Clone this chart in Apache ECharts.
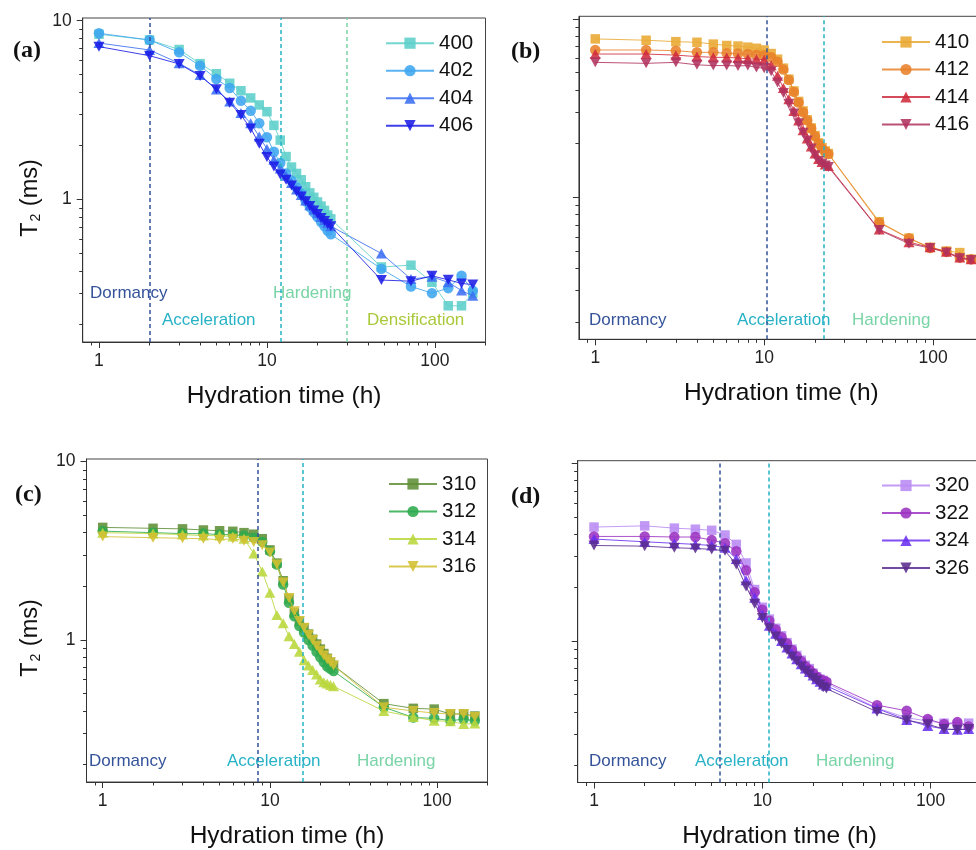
<!DOCTYPE html>
<html><head><meta charset="utf-8">
<script src="https://cdn.jsdelivr.net/npm/echarts@6/dist/echarts.min.js"></script>
<style>html,body{margin:0;padding:0;overflow:hidden;background:#fff}#c{width:1000px;height:850px}</style>
</head><body><div id="c"></div><script>
// ---- data ----
const hours = [1,2,3,4,5,6,7,8,9,10,11,12,13,14,15,16,17,18,19,20,21,22,23,24,48,72,96,120,144,168];

const names_a = ['400','402','404','406'];
const s400 = [8.4,7.8,6.9,5.75,5.05,4.47,4.06,3.7,3.38,3.1,2.6,2.15,1.74,1.52,1.4,1.29,1.18,1.09,1.03,0.97,0.92,0.87,0.82,0.78,0.42,0.43,0.345,0.255,0.255,0.30];
const s402 = [8.5,7.8,6.65,5.6,4.72,4.2,3.57,3.14,2.67,2.23,1.85,1.6,1.40,1.28,1.17,1.08,0.98,0.91,0.85,0.80,0.75,0.71,0.67,0.64,0.41,0.327,0.30,0.32,0.375,0.31];
const s404 = [7.5,6.86,5.78,4.97,4.13,3.53,3.05,2.67,2.25,1.92,1.67,1.49,1.36,1.24,1.14,1.06,0.99,0.93,0.88,0.84,0.80,0.77,0.74,0.71,0.50,0.36,0.37,0.345,0.31,0.29];
const s406 = [7.16,6.37,5.73,4.91,4.14,3.48,2.97,2.5,2.05,1.73,1.53,1.38,1.29,1.2,1.11,1.04,0.98,0.92,0.87,0.83,0.79,0.76,0.73,0.71,0.355,0.35,0.375,0.356,0.34,0.335];

const names_b = ['410','412','414','416'];
const s410 = [7.73,7.6,7.46,7.4,7.23,7.1,7.05,6.95,6.85,6.7,6.4,5.95,5.3,4.6,3.95,3.45,3.05,2.72,2.45,2.22,2.02,1.9,1.82,1.76,0.73,0.59,0.525,0.5,0.49,0.45];
const s412 = [6.7,6.7,6.64,6.5,6.5,6.42,6.4,6.36,6.3,6.25,6.1,5.75,5.2,4.55,3.9,3.4,3.0,2.7,2.43,2.2,2.0,1.88,1.8,1.75,0.72,0.59,0.52,0.495,0.46,0.45];
const s414 = [6.36,6.36,6.27,6.15,6.1,6.08,6.05,5.97,5.95,5.9,5.5,4.8,4.1,3.55,3.05,2.7,2.38,2.14,1.93,1.76,1.64,1.58,1.53,1.5,0.66,0.56,0.525,0.495,0.46,0.45];
const s416 = [5.71,5.64,5.71,5.53,5.48,5.48,5.45,5.48,5.34,5.3,5.1,4.4,3.85,3.35,2.95,2.6,2.3,2.08,1.88,1.72,1.6,1.55,1.51,1.48,0.655,0.55,0.52,0.49,0.455,0.445];

const names_c = ['310','312','314','316'];
const s310 = [4.28,4.23,4.2,4.14,4.1,4.07,4.0,3.92,3.7,3.2,2.7,2.15,1.7,1.42,1.27,1.17,1.08,1.01,0.95,0.89,0.84,0.79,0.75,0.72,0.44,0.414,0.41,0.385,0.385,0.375];
const s312 = [4.08,4.0,3.95,3.95,3.9,3.9,3.85,3.75,3.55,3.15,2.65,2.05,1.62,1.36,1.2,1.1,1.0,0.93,0.86,0.80,0.75,0.71,0.69,0.67,0.42,0.368,0.364,0.353,0.36,0.353];
const s314 = [4.0,3.95,3.9,3.85,3.85,3.8,3.7,3.06,2.42,1.84,1.38,1.24,1.05,0.95,0.86,0.77,0.72,0.68,0.64,0.60,0.58,0.57,0.56,0.55,0.40,0.37,0.353,0.35,0.338,0.34];
const s316 = [3.8,3.75,3.72,3.7,3.65,3.7,3.6,3.55,3.4,3.1,2.65,2.1,1.72,1.45,1.28,1.17,1.07,1.0,0.93,0.87,0.82,0.78,0.75,0.72,0.42,0.40,0.39,0.385,0.385,0.37];

const names_d = ['320','322','324','326'];
const s320 = [4.38,4.45,4.32,4.26,4.2,3.95,3.5,2.75,1.95,1.55,1.33,1.18,1.07,0.98,0.9,0.83,0.78,0.73,0.7,0.66,0.63,0.61,0.6,0.58,0.42,0.37,0.355,0.345,0.34,0.345];
const s322 = [3.88,3.88,3.85,3.85,3.7,3.55,3.2,2.5,1.88,1.5,1.3,1.16,1.05,0.97,0.89,0.82,0.77,0.72,0.69,0.66,0.63,0.61,0.60,0.59,0.436,0.405,0.364,0.341,0.35,0.331];
const s324 = [3.75,3.62,3.55,3.5,3.45,3.35,2.9,2.2,1.75,1.4,1.22,1.1,1.0,0.92,0.85,0.79,0.74,0.70,0.67,0.64,0.61,0.59,0.57,0.56,0.417,0.36,0.333,0.32,0.317,0.32];
const s326 = [3.45,3.42,3.35,3.32,3.28,3.22,2.7,2.03,1.62,1.35,1.18,1.06,0.97,0.89,0.82,0.77,0.72,0.68,0.65,0.62,0.60,0.57,0.55,0.54,0.40,0.359,0.34,0.32,0.317,0.32];

const xMajor = [1,10,100];
const xMinor = [0.9,2,3,4,5,6,7,8,9,20,30,40,50,60,70,80,90,200];
const yMajor = [1,10];
const yMinor = [0.2,0.3,0.4,0.5,0.6,0.7,0.8,0.9,2,3,4,5,6,7,8,9];

const phaseNames = ['Dormancy','Acceleration','Hardening','Densification'];
const phaseLines_a = [2,12,30];
const phaseLines_b = [10.4,22.6];
const phaseLines_c = [8.4,15.7];
const phaseLines_d = [5.6,10.9];

// ---- styling / layout ----
const FONT = 'Liberation Sans, Arial, sans-serif';
const phaseColors = ['#34539a','#27b2c6','#79d4a6','#a9c93a'];
const downTri = 'path://M0,0 L10,0 L5,9 Z';
const upTri = 'path://M5,0 L10,9 L0,9 Z';
const symbols = ['rect','circle',upTri,downTri];
const symSizes = [9.5,10.5,[11,10],[11,10]];

const panels = [
  {letter:'(a)', names:names_a, data:[s400,s402,s404,s406], colors:['#5ccfc9','#3ea6ef','#3b6ef2','#1c1ce6'],
   grid:{left:82.7,top:18,width:402.8,height:324}, lines:phaseLines_a, ylabels:true,
   legend:{left:385,top:32.7}, letterPos:[13,51], yname:[28,198],
   phases:[[0,90,293],[1,162,320],[2,273,293],[3,367,320]]},
  {letter:'(b)', names:names_b, data:[s410,s412,s414,s416], colors:['#e9a832','#e8812a','#cf2b3c','#b0325f'],
   grid:{left:578.9,top:16.3,width:405,height:323}, lines:phaseLines_b, ylabels:false,
   legend:{left:881,top:31.5}, letterPos:[511,52], yname:null,
   phases:[[0,589,320.5],[1,737,320.5],[2,852,320.5]]},
  {letter:'(c)', names:names_c, data:[s310,s312,s314,s316], colors:['#5e8e36','#2eaa4e','#b9d73c','#d2c032'],
   grid:{left:86.5,top:459,width:401,height:323}, lines:phaseLines_c, ylabels:true,
   legend:{left:388,top:473.5}, letterPos:[15,495], yname:[28,638],
   phases:[[0,89,761.7],[1,227,761.7],[2,357,761.7]]},
  {letter:'(d)', names:names_d, data:[s320,s322,s324,s326], colors:['#ba8af4','#9b32c2','#6a2ff0','#5a2c8e'],
   grid:{left:577.7,top:460.7,width:403.7,height:323}, lines:phaseLines_d, ylabels:false,
   legend:{left:881,top:475}, letterPos:[511,497], yname:null,
   phases:[[0,589,761.7],[1,695,761.7],[2,816,761.7]]}
];

const fmt = v => String(Math.round(v*1000)/1000);
const axisCol = '#333';
const grids=[], xAxes=[], yAxes=[], series=[], legends=[], graphics=[];

panels.forEach((p, gi) => {
  grids.push(Object.assign({show:true, borderColor:'#444', borderWidth:1, backgroundColor:'transparent'}, p.grid));
  const xBase = {gridIndex:gi, type:'log', logBase:10, min:0.8, max:200, position:'bottom', offset:0,
    splitLine:{show:false}, minorTick:{show:false}, minorSplitLine:{show:false}};
  xAxes.push(Object.assign({}, xBase, {
    axisLine:{show:true, lineStyle:{color:axisCol, width:1}},
    axisTick:{show:true, inside:false, length:6, customValues:xMajor, lineStyle:{color:axisCol}},
    axisLabel:{show:true, customValues:xMajor, formatter:fmt, fontSize:17.5, color:'#222', fontFamily:FONT, margin:10},
    name:'Hydration time (h)', nameLocation:'middle', nameGap:41.5,
    nameTextStyle:{fontSize:24.5, color:'#111', fontFamily:FONT}
  }));
  xAxes.push(Object.assign({}, xBase, {
    axisLine:{show:false},
    axisTick:{show:true, inside:false, length:3.5, customValues:xMinor, lineStyle:{color:axisCol}},
    axisLabel:{show:false}
  }));
  const yBase = {gridIndex:gi, type:'log', logBase:10, min:0.16, max:10.35, position:'left', offset:0,
    splitLine:{show:false}, minorTick:{show:false}, minorSplitLine:{show:false}};
  yAxes.push(Object.assign({}, yBase, {
    axisLine:{show:true, lineStyle:{color:axisCol, width:1}},
    axisTick:{show:true, inside:false, length:6, customValues:yMajor, lineStyle:{color:axisCol}},
    axisLabel:{show:p.ylabels, customValues:yMajor, formatter:fmt, fontSize:17.5, color:'#222', fontFamily:FONT, margin:11}
  }));
  yAxes.push(Object.assign({}, yBase, {
    axisLine:{show:false},
    axisTick:{show:true, inside:false, length:3.5, customValues:yMinor, lineStyle:{color:axisCol}},
    axisLabel:{show:false}
  }));
  p.names.forEach((nm, si) => {
    const s = {
      name:nm, type:'line', xAxisIndex:gi*2, yAxisIndex:gi*2,
      data: hours.map((h,i)=>[h, p.data[si][i]]),
      symbol:symbols[si], symbolSize:symSizes[si],
      color:p.colors[si],
      lineStyle:{width:1, color:p.colors[si], opacity:0.85},
      itemStyle:{color:p.colors[si], opacity:0.88},
      emphasis:{disabled:true}, z:2+si
    };
    if (si===0) {
      s.markLine = {silent:true, symbol:['none','none'], label:{show:false}, animation:false,
        data: p.lines.map((xv, li) => ({xAxis:xv, lineStyle:{color:phaseColors[li], type:[4,3], width:1.5}}))};
    }
    series.push(s);
  });
  legends.push({data:p.names, orient:'vertical', left:p.legend.left, top:p.legend.top, padding:0,
    itemWidth:48, itemHeight:14, itemGap:6.5, selectedMode:false,
    textStyle:{fontSize:20.5, color:'#111', fontFamily:FONT, lineHeight:20}});
  graphics.push({type:'text', x:p.letterPos[0], y:p.letterPos[1],
    style:{text:p.letter, font:'bold 24px "Liberation Serif", "Times New Roman", serif', fill:'#111', verticalAlign:'middle'}});
  if (p.yname) {
    graphics.push({type:'text', x:p.yname[0], y:p.yname[1], rotation:Math.PI/2,
      style:{text:'{t|T}{s|2}{t| (ms)}', align:'center', verticalAlign:'middle', fill:'#111',
        rich:{t:{fontSize:23.5, fontFamily:FONT, lineHeight:30, verticalAlign:'bottom'},
              s:{fontSize:14, fontFamily:FONT, lineHeight:30, verticalAlign:'bottom', padding:[0,1,0,1]}}}});
  }
  p.phases.forEach(([idx, x, y]) => {
    graphics.push({type:'text', x:x, y:y,
      style:{text:phaseNames[idx], fill:phaseColors[idx], fontSize:17, fontFamily:FONT, verticalAlign:'middle'}});
  });
});

const chart = echarts.init(document.getElementById('c'), null, {renderer:'canvas'});
chart.setOption({
  animation:false, backgroundColor:'#fff',
  grid:grids, xAxis:xAxes, yAxis:yAxes, series:series, legend:legends, graphic:graphics
});
</script></body></html>
